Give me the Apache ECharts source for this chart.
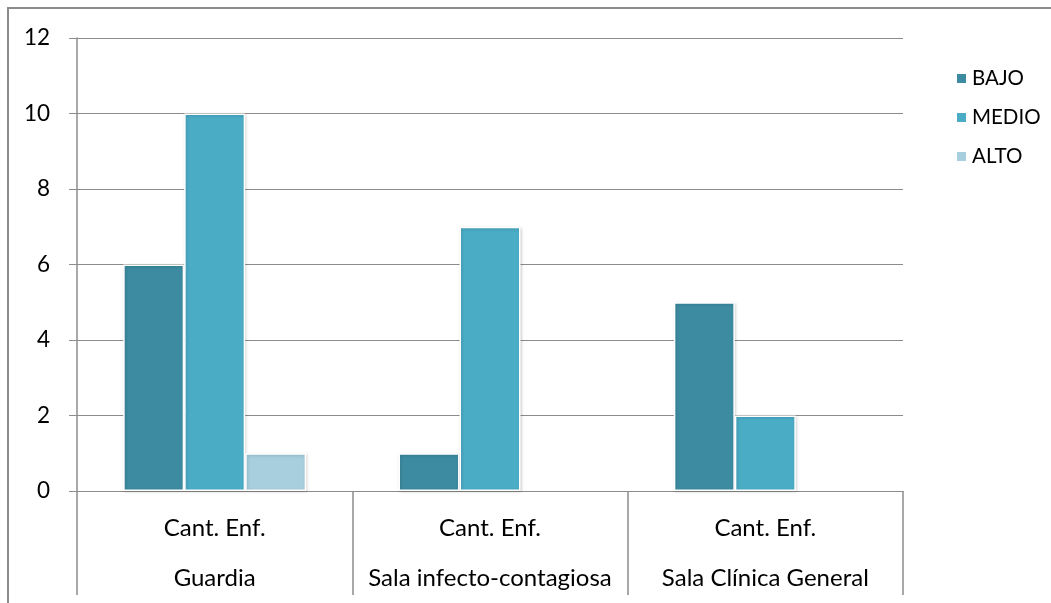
<!DOCTYPE html>
<html>
<head>
<meta charset="utf-8">
<script src="https://cdn.jsdelivr.net/npm/echarts@6/dist/echarts.min.js"></script>
<style>html,body{margin:0;padding:0;background:#fff}#c{width:1051px;height:603px}</style>
</head>
<body>
<div id="c"></div>
<script>
const groupLabel = 'Cant. Enf.';
const categories = ['Guardia', 'Sala infecto-contagiosa', 'Sala Clínica General'];
const seriesNames = ['BAJO', 'MEDIO', 'ALTO'];
const bajo = [6, 1, 5];
const medio = [10, 7, 2];
const alto = [1, 0, 0];
const yTicks = [0, 2, 4, 6, 8, 10, 12];

const colors = ['#3c8ba1', '#4bacc6', '#a8cfdd'];
const values = [bajo, medio, alto];
const font = 'Lato, "Open Sans", sans-serif';

const chart = echarts.init(document.getElementById('c'), null, {renderer: 'canvas'});
chart.setOption({
  animation: false,
  textStyle: {fontFamily: font},
  graphic: [{
    type: 'rect', silent: true, z: -1,
    shape: {x: 8, y: 8, width: 1200, height: 800},
    style: {fill: 'none', stroke: '#8c8c8c', lineWidth: 2}
  }],
  grid: {left: 77, right: 148, top: 38, bottom: 112},
  legend: {
    orient: 'vertical', left: 950, top: 63,
    itemWidth: 11, itemHeight: 11, itemGap: 18,
    icon: 'rect',
    data: seriesNames,
    textStyle: {fontSize: 20.5, color: '#000', fontFamily: font, padding: [0, 0, 0, 0]}
  },
  xAxis: {
    type: 'category',
    data: categories,
    axisLine: {lineStyle: {color: '#8c8c8c', width: 1}},
    axisTick: {show: true, length: 104, lineStyle: {color: '#8c8c8c', width: 1.5}},
    axisLabel: {
      interval: 0, margin: 12,
      formatter: v => '{a|' + groupLabel + '}\n{b|' + v + '}',
      rich: {
        a: {fontSize: 24, lineHeight: 50, color: '#000', fontFamily: font},
        b: {fontSize: 24, lineHeight: 50, color: '#000', fontFamily: font}
      }
    }
  },
  yAxis: {
    type: 'value', min: 0, max: 12, interval: 2,
    axisLine: {show: true, lineStyle: {color: '#8c8c8c', width: 1.5}},
    axisTick: {show: true, length: 8, lineStyle: {color: '#8c8c8c'}},
    splitLine: {lineStyle: {color: '#8c8c8c', width: 1}},
    axisLabel: {
      margin: 27, fontSize: 22.5, color: '#000', fontFamily: font,
      formatter: v => yTicks.includes(v) ? String(v) : ''
    }
  },
  series: seriesNames.map((n, i) => ({
    name: n, type: 'bar',
    data: values[i].map(v => (v === 0 ? null : v)),
    barWidth: 61, barGap: '0%',
    itemStyle: {
      color: colors[i], borderColor: '#fff', borderWidth: 1.5,
      shadowBlur: 3, shadowColor: 'rgba(0,0,0,0.18)', shadowOffsetX: 1, shadowOffsetY: 1
    }
  }))
});
</script>
</body>
</html>
